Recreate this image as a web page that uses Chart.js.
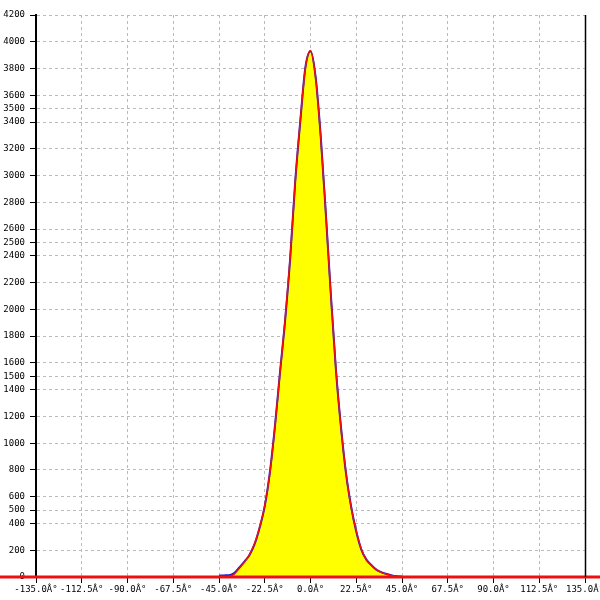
<!DOCTYPE html>
<html>
<head>
<meta charset="utf-8">
<script src="https://cdn.jsdelivr.net/npm/chart.js@4/dist/chart.umd.min.js"></script>
<style>
  body { margin: 0; background: #fff; }
  #chart { display: block; }
</style>
</head>
<body>
<canvas id="chart" width="600" height="600"></canvas>
<script>
// angles in degrees
const angles = [-45, -42.5, -40, -37.5, -35, -32.5, -30, -27.5, -25, -22.5, -20, -17.5, -15, -12.5, -10, -7.5, -5, -2.5, 0,
  2.5, 5, 7.5, 10, 12.5, 15, 17.5, 20, 22.5, 25, 27.5, 30, 32.5, 35, 37.5, 40, 42.5, 45]
const measured = [10, 12, 14, 30, 72, 115, 165, 245, 370, 530, 780, 1125, 1530, 1915, 2380, 2960, 3410, 3810, 3930,
  3740, 3300, 2725, 2115, 1550, 1120, 770, 525, 340, 205, 130, 88, 53, 35, 22, 12, 6, 4]
const fitted = [0, 0, 4, 22, 66, 112, 168, 250, 372, 535, 775, 1120, 1525, 1920, 2385, 2955, 3415, 3805, 3935,
  3735, 3295, 2730, 2110, 1555, 1115, 775, 520, 345, 210, 128, 86, 55, 33, 20, 10, 4, 0]
const zeroLine = [-160, 160]

const xTicks = [-135, -112.5, -90, -67.5, -45, -22.5, 0, 22.5, 45, 67.5, 90, 112.5, 135]
const yTicks = [0, 200, 400, 500, 600, 800, 1000, 1200, 1400, 1500, 1600, 1800, 2000, 2200, 2400, 2500, 2600,
  2800, 3000, 3200, 3400, 3500, 3600, 3800, 4000, 4200]

const pts = (ys) => angles.map((a, i) => ({ x: a, y: ys[i] }))

const rightBorder = {
  id: 'rightBorder',
  afterDatasetsDraw(chart) {
    const { ctx, chartArea } = chart
    ctx.save()
    ctx.strokeStyle = '#000'
    ctx.lineWidth = 1.5
    ctx.beginPath()
    ctx.moveTo(chartArea.right + 0.5, chartArea.top)
    ctx.lineTo(chartArea.right + 0.5, chartArea.bottom)
    ctx.stroke()
    ctx.restore()
  },
}

const tickFont = { family: 'DejaVu Sans Mono', size: 9 }

const config = {
  type: 'line',
  data: {
    datasets: [
      {
        data: pts(measured),
        borderColor: '#1a1ad0',
        backgroundColor: '#ffff00',
        borderWidth: 2,
        fill: 'origin',
        pointRadius: 0,
        cubicInterpolationMode: 'monotone',
        order: 3,
      },
      {
        data: pts(fitted),
        borderColor: '#ee1010',
        borderWidth: 1.5,
        fill: false,
        pointRadius: 0,
        cubicInterpolationMode: 'monotone',
        order: 2,
      },
      {
        data: zeroLine.map((x) => ({ x: x, y: 0 })),
        borderColor: '#ee1010',
        borderWidth: 3,
        fill: false,
        pointRadius: 0,
        clip: false,
        order: 1,
      },
    ],
  },
  options: {
    responsive: false,
    animation: false,
    layout: { padding: { top: 15, right: 15, left: 0, bottom: 0 } },
    plugins: { legend: { display: false }, tooltip: { enabled: false } },
    scales: {
      x: {
        type: 'linear',
        min: -135,
        max: 135,
        afterBuildTicks: (s) => { s.ticks = xTicks.map((v) => ({ value: v })) },
        afterFit: (s) => { s.height = 23; s.paddingLeft = 0; s.paddingRight = 0 },
        ticks: {
          autoSkip: false,
          maxRotation: 0,
          padding: 1,
          color: '#000',
          font: tickFont,
          callback: (v) => v.toFixed(1) + 'Â°',
        },
        grid: { color: '#bbbbbb', tickColor: '#000', tickLength: 6, tickBorderDash: [] },
        border: { color: '#000', width: 1, dash: [3, 3] },
      },
      y: {
        type: 'linear',
        min: 0,
        max: 4200,
        afterBuildTicks: (s) => { s.ticks = yTicks.map((v) => ({ value: v })) },
        afterFit: (s) => { s.width = 36; s.paddingTop = 0; s.paddingBottom = 0 },
        ticks: {
          autoSkip: false,
          padding: 5,
          color: '#000',
          font: tickFont,
          callback: (v) => String(v),
        },
        grid: { color: '#bbbbbb', tickColor: '#000', tickLength: 6, tickBorderDash: [] },
        border: { color: '#000', width: 2, dash: [3, 3] },
      },
    },
  },
  plugins: [rightBorder],
}

new Chart(document.getElementById('chart'), config)
</script>
</body>
</html>
